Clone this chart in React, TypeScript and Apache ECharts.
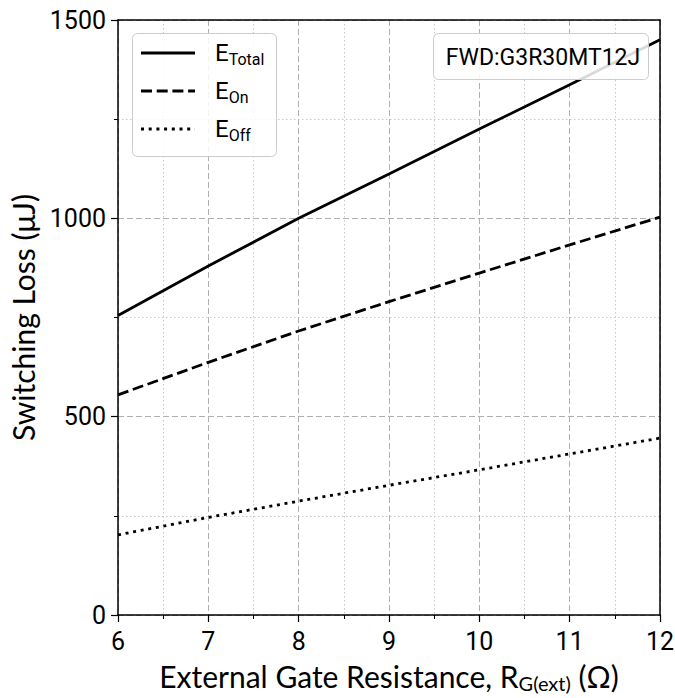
import React, { useEffect, useRef } from "react";
import * as echarts from "echarts";

const xValues = [6, 7, 8, 9, 10, 11, 12];
const eTotal = [755, 880, 1000, 1112, 1225, 1337, 1450];
const eOn = [555, 637, 716, 790, 862, 933, 1003];
const eOff = [202, 246, 287, 327, 366, 406, 446];
const deviceLabel = "FWD:G3R30MT12J";

const TICKFONT = "Roboto, 'Noto Sans', sans-serif";
const TITLEFONT = "Lato, 'Noto Sans', sans-serif";
const DASH = [11, 4.7];
const DOT = [3, 4.7];

export default function App() {
  const ref = useRef<HTMLDivElement>(null);
  useEffect(() => {
    if (!ref.current) return;
    const chart = echarts.init(ref.current, undefined, { renderer: "svg" });
    const pairs = (ys: number[]) => xValues.map((x, i) => [x, ys[i]]);
    const legendItems = [
      { name: "Total", dash: null as any },
      { name: "On", dash: DASH },
      { name: "Off", dash: DOT },
    ];
    const legendGraphics: any[] = [
      {
        type: "rect",
        left: 132,
        top: 33,
        shape: { width: 144, height: 123, r: 5 },
        style: { fill: "rgba(255,255,255,0.85)", stroke: "#cccccc", lineWidth: 1 },
        z: 100,
      },
    ];
    legendItems.forEach((it, i) => {
      const y = 53 + i * 38;
      legendGraphics.push({
        type: "line",
        shape: { x1: 141, y1: y, x2: 195, y2: y },
        style: { stroke: "#000", lineWidth: 2.8, lineDash: it.dash || undefined },
        z: 101,
      });
      legendGraphics.push({
        type: "text",
        x: 215,
        y: y,
        style: {
          text: "{m|E}{s|" + it.name + "}",
          verticalAlign: "middle",
          rich: {
            m: { fontSize: 24, fontFamily: TICKFONT, fill: "#000" },
            s: { fontSize: 16, fontFamily: TICKFONT, fill: "#000", padding: [12, 0, 0, 0] },
          },
        },
        z: 101,
      });
    });
    const borderAxis = {
      axisLine: { show: true, onZero: false, lineStyle: { color: "#000", width: 1.5 } },
      axisTick: { show: false },
      axisLabel: { show: false },
      splitLine: { show: false },
    };
    chart.setOption({
      animation: false,
      backgroundColor: "#fff",
      grid: { left: 118, right: 15, top: 20, bottom: 83, containLabel: false, outerBoundsMode: "none" },
      xAxis: [
        {
          type: "value",
          min: 6,
          max: 12,
          interval: 1,
          name: "External Gate Resistance, R{s|G(ext)} (Ω)",
          nameLocation: "middle",
          nameGap: 44,
          nameTextStyle: {
            fontSize: 30,
            fontFamily: TITLEFONT,
            color: "#000",
            rich: { s: { fontSize: 20, fontFamily: TITLEFONT, color: "#000", padding: [14, 0, 0, 0] } },
          },
          axisLine: { show: true, onZero: false, lineStyle: { color: "#000", width: 1.5 } },
          axisTick: { show: true, length: 7, lineStyle: { color: "#000", width: 1.2 } },
          minorTick: { show: true, splitNumber: 2, length: 4, lineStyle: { color: "#000", width: 1 } },
          axisLabel: { fontSize: 25, fontFamily: TICKFONT, color: "#000", margin: 14 },
          splitLine: { show: true, lineStyle: { color: "#b0b0b0", type: [6, 3], width: 1 } },
          minorSplitLine: { show: true, lineStyle: { color: "#c8c8c8", type: [1.5, 2.5], width: 1 } },
        },
        { type: "value", position: "top", min: 6, max: 12, ...borderAxis },
      ],
      yAxis: [
        {
          type: "value",
          min: 0,
          max: 1500,
          interval: 500,
          name: "Switching Loss (μJ)",
          nameLocation: "middle",
          nameGap: 80,
          nameTextStyle: { fontSize: 30, fontFamily: TITLEFONT, color: "#000" },
          axisLine: { show: true, onZero: false, lineStyle: { color: "#000", width: 1.5 } },
          axisTick: { show: true, length: 7, lineStyle: { color: "#000", width: 1.2 } },
          minorTick: { show: true, splitNumber: 2, length: 4, lineStyle: { color: "#000", width: 1 } },
          axisLabel: {
            fontSize: 25,
            fontFamily: TICKFONT,
            color: "#000",
            margin: 12,
            formatter: (v: number) => String(v),
          },
          splitLine: { show: true, lineStyle: { color: "#b0b0b0", type: [6, 3], width: 1 } },
          minorSplitLine: { show: true, lineStyle: { color: "#c8c8c8", type: [1.5, 2.5], width: 1 } },
        },
        { type: "value", position: "right", min: 0, max: 1500, ...borderAxis },
      ],
      series: [
        {
          name: "ETotal",
          type: "line",
          data: pairs(eTotal),
          showSymbol: false,
          lineStyle: { color: "#000", width: 2.8, type: "solid" },
          z: 5,
        },
        {
          name: "EOn",
          type: "line",
          data: pairs(eOn),
          showSymbol: false,
          lineStyle: { color: "#000", width: 2.8, type: DASH },
          z: 5,
        },
        {
          name: "EOff",
          type: "line",
          data: pairs(eOff),
          showSymbol: false,
          lineStyle: { color: "#000", width: 2.8, type: DOT },
          z: 5,
        },
      ],
      graphic: [
        ...legendGraphics,
        {
          type: "rect",
          left: 433,
          top: 33,
          shape: { width: 215, height: 46, r: 5 },
          style: { fill: "rgba(255,255,255,0.85)", stroke: "#cccccc", lineWidth: 1 },
          z: 100,
        },
        {
          type: "text",
          x: 543,
          y: 57,
          style: {
            text: deviceLabel,
            fontSize: 23,
            fontFamily: TICKFONT,
            fill: "#000",
            align: "center",
            verticalAlign: "middle",
          },
          z: 101,
        },
      ],
    });
    return () => chart.dispose();
  }, []);
  return <div ref={ref} style={{ width: 675, height: 698, position: "absolute", left: 0, top: 0 }} />;
}
